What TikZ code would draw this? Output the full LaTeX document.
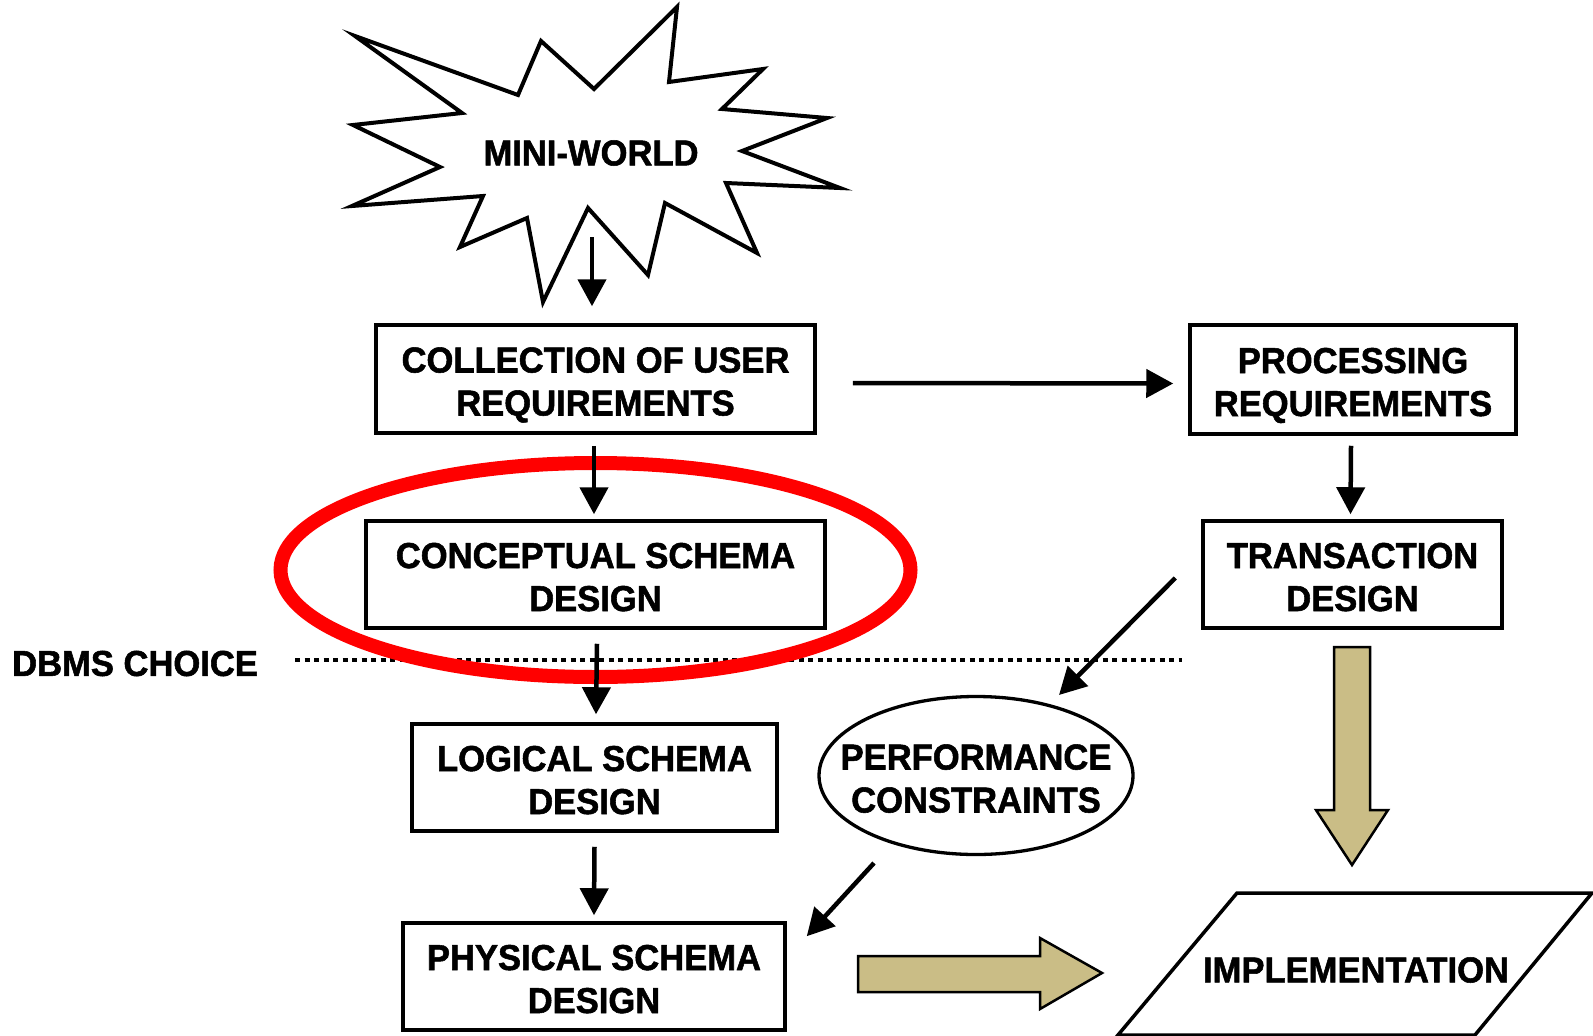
\documentclass[tikz,border=0pt]{standalone}
\usepackage{fontspec}
\usetikzlibrary{arrows.meta}
\newfontfamily\lblfam[FakeStretch=0.96, FakeBold=1.5]{Liberation Sans Bold}
\newcommand{\lblfont}{\lblfam\fontsize{36}{43}\selectfont}
\definecolor{tanfill}{RGB}{202,189,134}
\tikzset{
  box/.style={draw, line width=3.5pt, inner sep=0pt, align=center,
              minimum height=107pt, font=\lblfont, text height=73pt, text depth=0pt},
  label/.style={inner sep=0pt, align=center, font=\lblfont},
  arr/.style={line width=4.5pt, -{Triangle[width=28pt,length=27pt]}},
  bigarrow/.style={draw, line width=2.5pt, fill=tanfill, line join=miter},
}
\begin{document}
\begin{tikzpicture}[x=1pt,y=-1pt]
\useasboundingbox (0,0) rectangle (1593,1036);

% dividing line for the DBMS choice
\node[label, anchor=west] (dbms) at (12,663.5) {DBMS CHOICE};
\draw[line width=4.5pt, dash pattern=on 5.3pt off 4.2pt] (295,660) -- (1182,660);

% highlight round the conceptual design step
\draw[red, line width=14pt] (595.5,570) ellipse [x radius=315pt, y radius=107pt];

% mini-world starburst
\draw[line width=4pt, line join=miter, fill=white]
  (355,36) -- (518,95) -- (541,41) -- (594,89) -- (677,7) -- (669,82)
  -- (763,69) -- (722,109) -- (827,118) -- (742,151) -- (840,188)
  -- (726,183) -- (757,253) -- (665,203) -- (648,275) -- (588,208)
  -- (543,302) -- (527,218) -- (460,247) -- (483,196) -- (352,206)
  -- (440,167) -- (353,125) -- (462,113) -- cycle;
\node[label] (mini) at (591,153) {MINI-WORLD};
\coordinate (miniout) at (592,237);

% process steps
\node[box, minimum width=439pt, minimum height=108pt] (coll) at (595.5,379)
  {COLLECTION OF USER\\REQUIREMENTS};
\node[box, minimum width=326pt, minimum height=109pt] (proc) at (1353,379.5)
  {PROCESSING\\REQUIREMENTS};
\node[box, minimum width=459pt] (conc) at (595.5,574.5)
  {CONCEPTUAL SCHEMA\\DESIGN};
\node[box, minimum width=299pt] (trans) at (1352.5,574.5)
  {TRANSACTION\\DESIGN};
\node[box, minimum width=365pt] (logic) at (594.5,777.5)
  {LOGICAL SCHEMA\\DESIGN};
\node[box, minimum width=382pt] (phys) at (594,976.5)
  {PHYSICAL SCHEMA\\DESIGN};
\node[label, text height=74pt, text depth=0pt] (perf) at (976,775.5)
  {PERFORMANCE\\CONSTRAINTS};
\draw[line width=3.3pt] (perf.center) ellipse [x radius=157pt, y radius=79pt];

% implementation parallelogram
\draw[line width=3.5pt, line join=miter] (1237,893) -- (1592,893) -- (1475,1035) -- (1118,1035) -- cycle;
\node[label] (impl) at (1356,970) {IMPLEMENTATION};

% connectors
\draw[arr] (miniout) -- ([yshift=17pt]coll.north -| miniout);
\draw[arr] ([xshift=-1.5pt,yshift=-11pt]coll.south) -- ([xshift=-1.5pt,yshift=5pt]conc.north);
\draw[arr] ([shift={(36pt,-4pt)}]coll.east) -- ([shift={(-15pt,-4pt)}]proc.west);
\draw[arr] ([xshift=-2pt,yshift=-10pt]proc.south) -- ([xshift=-2pt,yshift=5pt]trans.north);
\draw[arr] ([xshift=1.5pt,yshift=-14pt]conc.south) -- ([xshift=1.5pt,yshift=8pt]logic.north);
\draw[arr] ([yshift=-14pt]logic.south) -- ([yshift=6pt]phys.north);
\draw[arr] ([shift={(-26pt,-3.5pt)}]trans.west) -- ([shift={(83pt,80.5pt)}]perf.center);
\draw[arr] ([shift={(-102pt,-87.5pt)}]perf.center) -- ([shift={(20pt,-15pt)}]phys.north east);

% broad arrows into the implementation
\draw[bigarrow] (1334,647) -- (1370,647) -- (1370,810) -- (1388,810) -- (1352,865)
  -- (1316,810) -- (1334,810) -- cycle;
\draw[bigarrow] (858,956) -- (1040,956) -- (1040,938) -- (1102,973) -- (1040,1009)
  -- (1040,992) -- (858,992) -- cycle;
\end{tikzpicture}
\end{document}
